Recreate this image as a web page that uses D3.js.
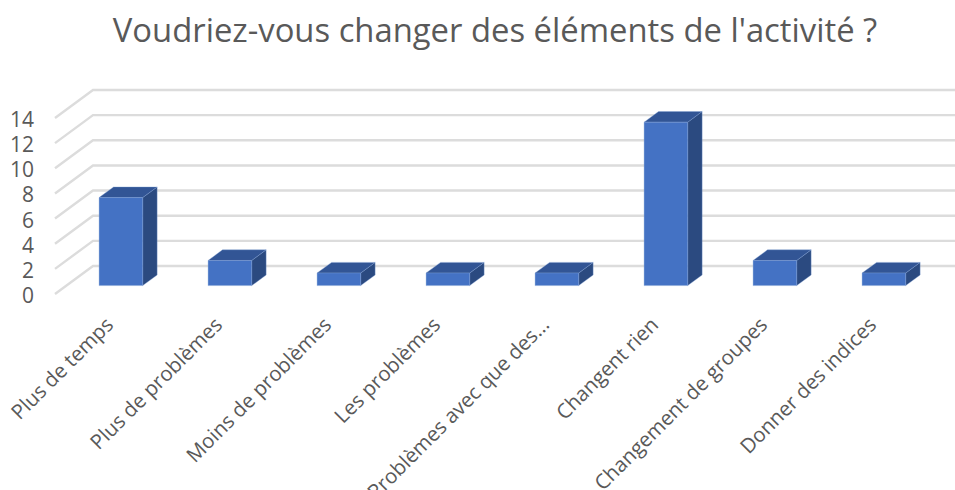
<!DOCTYPE html>
<html><head><meta charset="utf-8">
<script src="https://cdnjs.cloudflare.com/ajax/libs/d3/7.8.5/d3.min.js"></script>
<style>html,body{margin:0;padding:0;background:#fff;overflow:hidden}svg{display:block}text{font-family:"Open Sans",sans-serif;fill:#595959}</style>
</head><body><svg id="c" width="955" height="490"></svg>
<script>
const titleText = "Voudriez-vous changer des éléments de l'activité ?";
const categories = ["Plus de temps","Plus de problèmes","Moins de problèmes","Les problèmes","Problèmes avec que des...","Changent rien","Changement de groupes","Donner des indices"];
const values = [7,2,1,1,1,13,2,1];
const yTicks = [0,2,4,6,8,10,12,14];

const svg = d3.select("#c");
svg.append("text").attr("x",495).attr("y",42).attr("text-anchor","middle").attr("font-size",32.8).text(titleText);

// oblique projection: z 0 = front of floor, 1 = back wall
const y = d3.scaleLinear().domain([0,14]).range([294,118]);
const zx = d3.scaleLinear().domain([0,1]).range([0,38]);
const zy = d3.scaleLinear().domain([0,1]).range([0,-28]);
const x = d3.scaleBand().domain(categories).range([55,927]).paddingInner(0.6).paddingOuter(0.3);
const P = (px,v,z)=>[px+zx(z), y(v)+zy(z)];
const barZ0 = 0.3, barZ1 = 0.68;

const grid = svg.append("g").attr("fill","none").attr("stroke","#dcdcdc").attr("stroke-width",2.4);
yTicks.forEach(t=>{
  grid.append("path").attr("d",d3.line()([P(55,t,0),P(55,t,1),P(955,t,1)]));
});

svg.append("g").selectAll("text").data(yTicks).join("text")
  .attr("x",34).attr("y",d=>y(d)+9).attr("text-anchor","end").attr("font-size",21).text(d=>d);

const bars = svg.append("g").selectAll("g").data(categories).join("g");
bars.each(function(c,i){
  const g = d3.select(this), v = values[i], a = x(c), b = a + x.bandwidth();
  const poly = (pts,fill)=>g.append("path").attr("d",d3.line()(pts)+"Z").attr("fill",fill).attr("stroke","#7f9fd6").attr("stroke-opacity",0.45).attr("stroke-width",0.8);
  poly([P(b,0,barZ0),P(b,0,barZ1),P(b,v,barZ1),P(b,v,barZ0)],"#2b4a80");
  poly([P(a,v,barZ0),P(a,v,barZ1),P(b,v,barZ1),P(b,v,barZ0)],"#325595");
  poly([P(a,0,barZ0),P(b,0,barZ0),P(b,v,barZ0),P(a,v,barZ0)],"#4472c4");
});

svg.append("g").selectAll("text").data(categories).join("text")
  .attr("text-anchor","end").attr("font-size",20.4)
  .attr("transform",c=>`translate(${x(c)+x.bandwidth()/2},${321}) rotate(-45)`)
  .attr("dy","0.35em").text(c=>c);
</script></body></html>
